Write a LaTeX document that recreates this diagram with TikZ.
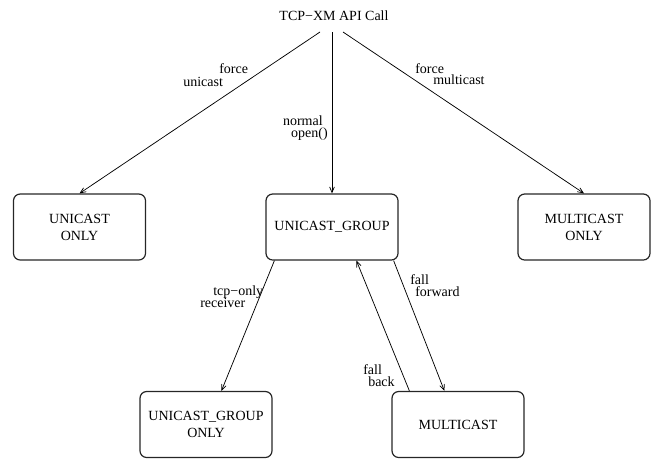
\documentclass[tikz,border=0pt]{standalone}
\usepackage{fontspec}
\setmainfont{Liberation Serif}
\usetikzlibrary{arrows,calc}

\tikzset{
  statebox/.style={draw=black!85,rounded corners=5pt,line width=0.9pt,align=center,inner sep=1pt,
    minimum width=99pt,minimum height=49.5pt,font=\fontsize{10.5}{12.75}\selectfont},
  lbl/.style={inner sep=0pt,font=\fontsize{10.5}{12}\selectfont},
  flow/.style={->,>=angle 45,line width=0.55pt}
}

\begin{document}
\begin{tikzpicture}[x=0.75pt,y=0.75pt,yscale=-1,xscale=1]
\useasboundingbox (0,0) rectangle (655,458);

% Text Node
\node (api) [lbl,anchor=base] at (334,20) {TCP−XM API Call};
\coordinate (apiL) at (320,32);
\coordinate (apiM) at (332,32);
\coordinate (apiR) at (343,32);

%Shape: Rounded Rect
\node (uonly) [statebox] at (79.5,227) {UNICAST\\ONLY};
\node (ugroup) [statebox] at (332,227) {UNICAST\_GROUP};
\node (monly) [statebox] at (584,227) {MULTICAST\\ONLY};
\node (ugonly) [statebox] at (206,424.5) {UNICAST\_GROUP\\ONLY};
\node (mcast) [statebox] at (458,424.5) {MULTICAST};

%Straight Lines
\draw [flow] (apiL) -- (uonly.north);
\draw [flow] (apiM) -- (ugroup.north);
\draw [flow] (apiR) -- (monly.north);
\draw [flow] ($(ugroup.south west)+(9,0)$) -- ($(ugonly.north west)+(82,0)$);
\draw [flow] ($(ugroup.south east)+(-5,0)$) -- ($(mcast.north west)+(53,0)$);
\draw [flow] ($(mcast.north west)+(18,0)$) -- ($(ugroup.south west)+(91,0)$);

% Text Node
\node (fu1) [lbl,anchor=base west] at (219,73) {force};
\node (fu2) [lbl,anchor=base west] at (183,86) {unicast};
% Text Node
\node (fm1) [lbl,anchor=base west] at (415,73) {force};
\node (fm2) [lbl,anchor=base west] at (433,84) {multicast};
% Text Node
\node (no1) [lbl,anchor=base east] at (323,125) {normal};
\node (no2) [lbl,anchor=base east] at (328,137) {open()};
% Text Node
\node (tr1) [lbl,anchor=base west] at (213,295) {tcp−only};
\node (tr2) [lbl,anchor=base west] at (200,307) {receiver};
% Text Node
\node (ff1) [lbl,anchor=base west] at (410,284) {fall};
\node (ff2) [lbl,anchor=base west] at (415,296) {forward};
% Text Node
\node (fb1) [lbl,anchor=base west] at (363,374) {fall};
\node (fb2) [lbl,anchor=base west] at (368,386) {back};
\end{tikzpicture}
\end{document}
